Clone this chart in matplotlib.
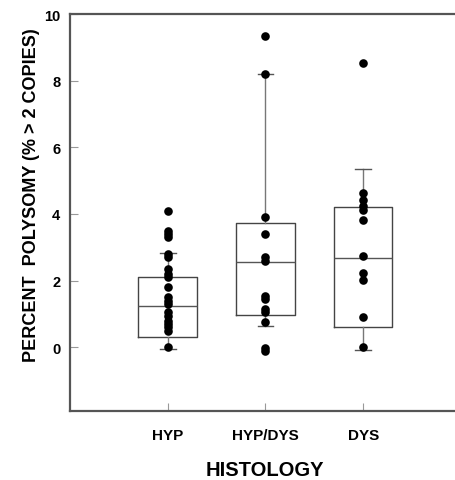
import matplotlib
matplotlib.use("Agg")
import matplotlib.pyplot as plt

categories = ["HYP", "HYP/DYS", "DYS"]

hyp_points = [4.1, 3.5, 3.4, 3.3, 2.8, 2.7, 2.35, 2.2, 2.1, 1.8, 1.5, 1.4, 1.3,
              1.05, 0.95, 0.8, 0.7, 0.6, 0.5, 0.0]
hypdys_points = [9.33, 8.2, 3.9, 3.4, 2.7, 2.6, 1.55, 1.45, 1.15, 1.05, 0.75, -0.03, -0.1]
dys_points = [8.53, 4.63, 4.43, 4.24, 4.13, 3.83, 2.73, 2.23, 2.02, 0.92, 0.02]

q1 = [0.31, 0.97, 0.60]
median = [1.24, 2.55, 2.67]
q3 = [2.11, 3.73, 4.20]
whislo = [-0.05, 0.63, -0.08]
whishi = [2.84, 8.20, 5.35]

yticks = [0, 2, 4, 6, 8, 10]

plt.rcParams['font.family'] = ['Liberation Sans', 'DejaVu Sans']

fig = plt.figure(figsize=(4.55, 4.81), dpi=100)
ax = fig.add_axes([70/455, 1 - 411.5/481, 1 - 70/455, (411.5 - 15)/481])

positions = [1, 2, 3]
stats = []
for i, c in enumerate(categories):
    stats.append(dict(label=c, q1=q1[i], med=median[i], q3=q3[i],
                      whislo=whislo[i], whishi=whishi[i], fliers=[]))

spine_col = "#555555"
ax.bxp(stats, positions=positions, widths=0.6, showfliers=False,
       boxprops=dict(color="#444444", linewidth=1.0),
       medianprops=dict(color="#555555", linewidth=1.0),
       whiskerprops=dict(color="#777777", linewidth=1.0),
       capprops=dict(color="#555555", linewidth=1.0),
       capwidths=0.16)

for pos, pts in zip(positions, [hyp_points, hypdys_points, dys_points]):
    ax.plot([pos] * len(pts), pts, 'o', color='black', markersize=6.2,
            markeredgewidth=0, zorder=5, clip_on=False)

ax.set_xlim(0, 3.94)
ax.set_ylim(-1.9, 10)
ax.set_yticks(yticks)
ax.set_yticklabels([str(t) for t in yticks])
ax.set_xticks(positions)
ax.set_xticklabels(categories)

for s in ["left", "top", "bottom"]:
    ax.spines[s].set_color(spine_col)
    ax.spines[s].set_linewidth(1.6)
ax.spines["right"].set_visible(False)

ax.tick_params(axis='y', direction='in', length=6, width=0.8, color="#999999",
               pad=7, labelsize=10.5)
ax.tick_params(axis='x', direction='in', length=6, width=0.8, color="#999999",
               pad=12.5, labelsize=11)
for lab in ax.get_yticklabels() + ax.get_xticklabels():
    lab.set_fontweight('bold')

fig.text(32/455, 1 - 195/481, "PERCENT  POLYSOMY (% > 2 COPIES)", rotation=90,
         ha='center', va='center', fontsize=13, fontweight='bold')
fig.text(265/455, 1 - 471/481, "HISTOLOGY", ha='center', va='center',
         fontsize=14.5, fontweight='bold')

fig.savefig("out.png", dpi=100)
